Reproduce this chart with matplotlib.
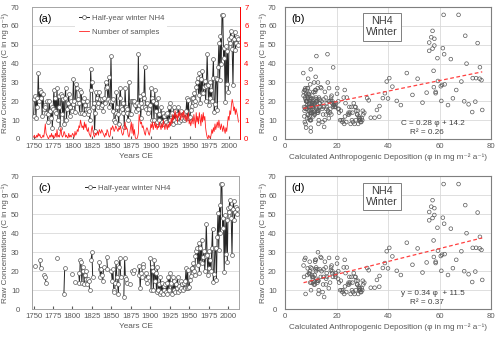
import numpy as np
import matplotlib
matplotlib.use("Agg")
import matplotlib.pyplot as plt

plt.rcParams['font.family'] = ['Liberation Sans', 'DejaVu Sans']

years = np.arange(1750, 2013)

# half-year winter NH4 (ng/g), one value per year 1750-2012
nh4 = [
    12, 21, 23, 11, 22, 17, 35, 20, 26, 21.5,
    25, 12, 24, 16, 18, 17, 14, 20, 9, 13,
    20, 15, 11, 17, 6, 16, 26, 15, 22, 14,
    27, 10, 23, 17, 6, 24, 23, 13, 21, 8,
    21.5, 27, 10, 16, 19, 24, 12, 17, 20, 15,
    18.5, 32, 20, 14.5, 29, 27, 19, 21, 19, 14,
    26, 25, 14, 20, 22, 13, 18, 16, 20, 13,
    16, 15, 10, 37, 26, 30, 17, 19, 4, 14,
    25, 22, 19, 17, 25, 21, 17, 21, 18, 15,
    22, 19, 30, 27, 27.5, 21, 33, 17, 20, 44,
    20, 15, 21, 10, 9, 14, 25, 17, 13, 8,
    22, 27, 17, 16, 14, 19, 6.4, 27, 17, 16,
    14, 10, 30, 13, 13, 20, 20, 20, 19, 20.4,
    18, 15, 19, 16, 45, 18, 23, 11, 19, 17,
    24, 22, 38, 17, 16, 19, 14, 17, 16, 18,
    27, 10, 22, 20, 10, 26, 15, 19, 9, 22,
    10, 13, 8, 17, 9, 14, 8, 12, 10, 13,
    9, 14, 8, 17, 10, 19, 13, 14, 8, 17,
    10, 15, 9, 13, 11, 17, 9, 12, 10, 15,
    11, 13, 10, 14, 11, 15, 21.7, 11.3, 20.5, 11.3,
    11.8, 15.4, 17.5, 21.7, 21.5, 24.3, 20.2, 18.0, 27.8, 30.5,
    32.3, 23.4, 35.0, 19.3, 32.0, 24.6, 36.2, 24.3, 27.5, 30.8,
    20.2, 28.0, 45.0, 28.7, 18.0, 30.5, 21.6, 26.0, 20.0, 32.3,
    42.4, 14.3, 18.4, 32.3, 32.0, 15.4, 38.1, 50.9, 31.2, 54.8,
    40.0, 65.9, 65.9, 42.9, 48.2, 19.8, 49.6, 29.0, 46.8, 25.0,
    53.2, 51.2, 57.4, 54.0, 48.0, 28.5, 53, 57, 47, 51,
    54, 50, 53,
]

# number of samples (right axis)
samples = [
    0.1, 0.2, 0.1, 0.05, 0.2, 0.1, 0.3, 0.15, 0.25, 0.1,
    0.05, 0.1, 0.2, 0.1, 0.4, 0.8, 0.3, 0.2, 0.1, 0.0,
    0.1, 0.2, 0.1, 0.3, 0.1, 0.2, 0.05, 0.1, 0.3, 0.1,
    0.5, 0.1, 0.2, 0.1, 0.3, 0.6, 0.2, 0.1, 0.2, 0.4,
    0.3, 0.1, 0.2, 0.1, 0.05, 0.3, 0.1, 0.2, 0.1, 0.2,
    0.3, 0.2, 0.1, 0.4, 0.2, 0.3, 0.5, 0.4, 0.7, 0.6,
    1.0, 0.8, 0.6, 0.7, 0.5, 0.9, 0.6, 0.8, 0.5, 0.4,
    0.6, 0.3, 0.2, 0.1, 0.5, 0.7, 0.4, 0.2, 0.1, 0.3,
    0.2, 0.3, 0.4, 0.2, 0.5, 0.4, 0.3, 0.5, 0.4, 0.3,
    0.2, 0.1, 0.3, 0.2, 0.5, 0.4, 0.2, 0.1, 0.2, 0.6,
    0.5, 0.7, 0.6, 0.4, 0.5, 0.7, 0.6, 0.5, 0.4, 0.6,
    0.5, 0.7, 0.5, 0.3, 0.2, 0.3, 0.6, 0.9, 0.5, 0.6,
    0.5, 0.2, 0.1, 0.3, 0.6, 0.9, 0.3, 0.8, 0.2, 0.5,
    0.1, 0.0, 0.0, 0.1, 0.3, 1.3, 1.0, 0.8, 0.9, 0.6,
    0.7, 0.5, 0.3, 0.2, 0.5, 0.6, 0.5, 0.3, 0.2, 0.4,
    0.8, 0.6, 0.9, 0.5, 0.7, 0.9, 0.6, 0.8, 0.5, 0.7,
    0.6, 0.9, 0.7, 0.5, 0.8, 0.6, 1.0, 0.7, 0.5, 0.8,
    0.7, 0.5, 0.8, 0.6, 0.9, 0.7, 1.1, 0.8, 1.3, 1.0,
    1.2, 1.5, 1.1, 1.3, 0.9, 1.4, 1.2, 1.5, 1.0, 1.3,
    1.4, 1.1, 1.5, 1.2, 1.0, 1.3, 0.9, 1.2, 1.4, 0.8,
    1.0, 0.7, 0.9, 1.1, 0.8, 1.3, 1.0, 0.6, 1.4, 0.9,
    1.2, 0.8, 1.4, 1.1, 0.7, 1.3, 0.9, 1.4, 1.0, 1.2,
    0.6, 0.3, 0.1, 0.0, 0.2, 0.1, 0.05, 0.2, 0.5, 0.3,
    0.6, 0.4, 0.8, 0.5, 0.7, 0.9, 0.6, 1.0, 0.7, 0.5,
    0.8, 0.6, 0.4, 0.7, 0.5, 0.3, 0.6, 0.4, 0.8, 1.2,
    1.0, 1.5, 1.3, 1.8, 2.1, 1.9, 1.5, 1.7, 1.3, 1.6,
    1.4, 1.2, 0.9,
]

# calculated anthropogenic deposition (mg m-2 a-1); no estimate after 2004
nan = float('nan')
phi = [
    7.5, 8.0, 7.2, 8.6, 7.8, 9.1, 7.1, 8.3, 7.6, 8.8,
    7.3, 9.5, 8.1, 7.9, 8.7, 7.4, 9.8, 8.2, 7.7, 9.0,
    8.4, 7.6, 9.3, 8.0, 10.0, 8.6, 7.8, 9.4, 8.9, 10.3,
    7.9, 9.7, 8.5, 10.1, 8.2, 9.2, 10.6, 8.8, 9.6, 8.0,
    10.4, 8.7, 9.9, 8.3, 10.8, 9.0, 11.0, 9.4, 8.6, 10.2,
    9.5, 9.0, 10.7, 11.3, 9.8, 8.9, 11.5, 10.0, 9.3, 10.9,
    11.8, 9.6, 10.3, 12.0, 9.9, 11.2, 10.5, 12.3, 9.7, 11.6,
    10.8, 12.5, 10.1, 10.0, 11.9, 12.8, 10.6, 11.4, 10.0, 12.9,
    11.1, 13.2, 10.4, 12.2, 11.7, 13.5, 10.9, 12.6, 11.5, 13.0,
    12.1, 13.4, 11.3, 12.7, 13.8, 11.9, 11.9, 13.3, 12.4, 12.2,
    14.2, 12.8, 15.0, 13.1, 14.6, 12.6, 15.5, 13.9, 14.8, 13.0,
    15.8, 14.1, 16.3, 14.5, 16.8, 13.6, 15.2, 17.1, 14.9, 16.0,
    17.5, 15.4, 16.6, 18.0, 15.9, 17.3, 16.9, 18.4, 16.2, 17.8,
    18.8, 16.7, 19.1, 17.6, 16.5, 19.5, 18.1, 17.0, 19.8, 18.6,
    20.2, 17.9, 18.7, 19.3, 20.6, 18.3, 21.0, 19.6, 20.9, 19.0,
    20.3, 21.4, 22.8, 20.7, 22.0, 23.2, 21.7, 23.5, 22.3, 24.0,
    22.6, 24.4, 23.0, 25.0, 23.8, 24.7, 25.5, 23.3, 26.0, 24.9,
    26.4, 25.3, 27.0, 25.8, 27.5, 26.7, 28.0, 26.2, 28.4, 27.2,
    28.8, 27.7, 29.3, 28.1, 29.0, 27.4, 29.6, 28.6, 30.0, 28.3,
    29.8, 30.4, 29.2, 30.8, 28.9, 30.2, 31.9, 33.3, 32.5, 34.8,
    36.6, 35.7, 36.7, 38.0, 40.0, 38.8, 43.4, 45.0, 41.7, 39.5,
    40.5, 49.5, 47.3, 53.4, 51.5, 55.0, 57.7, 58.5, 57.8, 59.4,
    60.7, 60.5, 61.8, 61.0, 63.3, 68.5, 65.2, 66.5, 69.6, 72.9,
    64.4, 72.7, 71.3, 74.2, 75.6, 76.6, 75.7, 74.8, 76.3, 70.0,
    70.5, 67.4, 61.6, 59.2, 61.3, 73.9, 58.0, 62.0, 56.0, 58.5,
    58.0, 56.0, 57.3, 56.8, 57.3, nan, nan, nan, nan, nan,
    nan, nan, nan,
]

# years kept in the filtered record (panels c and d)
c_spans = [(1752, 1752), (1758, 1759), (1764, 1766), (1780, 1780), (1789, 1790),
           (1800, 1800), (1803, 1803), (1808, 1822), (1824, 1826), (1834, 1840),
           (1844, 1845), (1850, 1862), (1866, 1870), (1874, 1874), (1877, 1879),
           (1885, 1891), (1894, 1897), (1900, 2012)]

fit_b = [0.28, 14.2]
fit_d = [0.34, 11.5]
eq_b = ["C = 0.28 φ + 14.2", "R² = 0.26"]
eq_d = ["y = 0.34 φ  + 11.5", "R² = 0.37"]

nh4 = np.array(nh4, float)
samples = np.array(samples, float)
phi = np.array(phi, float)
keep = np.zeros(len(years), bool)
for a, b in c_spans:
    keep |= (years >= a) & (years <= b)
nh4_c = np.where(keep, nh4, np.nan)

GRAY = '#595959'
GRID = '#d9d9d9'
FS = 5.6
ylab = 'Raw Concentrations (C in ng g⁻¹)'
xlab_s = 'Calculated Anthropogenic Deposition (φ in mg m⁻² a⁻¹)'


def series_axes(ax, vals, tag):
    ax.plot(years, vals, '-o', color='#262626', lw=0.7, ms=2.8, mfc='white',
            mec='#595959', mew=0.5, label='Half-year winter NH4', zorder=3)
    ax.set_xlim(1748, 2014)
    ax.set_ylim(0, 70)
    ax.set_xticks(range(1750, 2001, 25))
    ax.set_yticks(range(0, 71, 10))
    ax.yaxis.grid(True, color=GRID, lw=0.6)
    ax.set_axisbelow(True)
    for s in ax.spines.values():
        s.set_color('#a6a6a6')
        s.set_linewidth(0.7)
    ax.tick_params(axis='x', labelsize=FS, colors=GRAY, length=2, pad=3, direction='in')
    ax.tick_params(axis='y', labelsize=FS, colors=GRAY, length=0, pad=9)
    ax.set_xlabel('Years CE', fontsize=FS + 0.3, color=GRAY, labelpad=2)
    ax.set_ylabel(ylab, fontsize=FS + 0.3, color=GRAY, labelpad=1)
    ax.text(0.03, 0.91, tag, transform=ax.transAxes, fontsize=7.8, va='center')


def scatter_axes(ax, x, y, fit, eq, tag):
    ax.scatter(x, y, s=7, facecolors='none', edgecolors='#595959', linewidths=0.5, zorder=3)
    xs = np.array([np.nanmin(x), np.nanmax(x)])
    ax.plot(xs, fit[0] * xs + fit[1], '--', color='#ff4040', lw=0.9, dashes=(3, 2), zorder=4)
    ax.set_xlim(0, 80)
    ax.set_ylim(0, 70)
    ax.set_xticks(range(0, 81, 20))
    ax.set_yticks(range(0, 71, 10))
    ax.grid(True, color=GRID, lw=0.6)
    ax.set_axisbelow(True)
    for s in ax.spines.values():
        s.set_color('#7f7f7f')
        s.set_linewidth(0.8)
    ax.tick_params(labelsize=FS, colors=GRAY, length=0, pad=3)
    ax.tick_params(axis='y', pad=6)
    ax.set_xlabel(xlab_s, fontsize=FS + 0.3, color=GRAY, labelpad=2)
    ax.set_ylabel(ylab, fontsize=FS + 0.3, color=GRAY, labelpad=1)
    ax.text(0.03, 0.91, tag, transform=ax.transAxes, fontsize=7.8, va='center')
    ax.text(0.47, 0.85, 'NH4\nWinter', transform=ax.transAxes, fontsize=7.8,
            ha='center', va='center', color='#404040', linespacing=1.1,
            bbox=dict(boxstyle='square,pad=0.3', fc='white', ec='#7f7f7f', lw=0.7))
    ax.text(0.72, 0.12, eq[0], transform=ax.transAxes, fontsize=FS + 0.3,
            ha='center', va='center', color='#404040')
    ax.text(0.69, 0.05, eq[1], transform=ax.transAxes, fontsize=FS + 0.3,
            ha='center', va='center', color='#404040')


fig = plt.figure(figsize=(5, 3.39), dpi=100)
ax_a = fig.add_axes([0.064, 0.590, 0.416, 0.389])
ax_b = fig.add_axes([0.570, 0.590, 0.412, 0.389])
ax_c = fig.add_axes([0.064, 0.088, 0.414, 0.392])
ax_d = fig.add_axes([0.570, 0.088, 0.412, 0.392])

# (a) full record with number of samples
series_axes(ax_a, nh4, '(a)')
ax_r = ax_a.twinx()
ax_r.plot(years, samples, color='#ff2020', lw=0.6, label='Number of samples')
ax_r.set_ylim(0, 7)
ax_r.set_yticks(range(0, 8))
ax_r.tick_params(axis='y', labelsize=FS, colors='#ff0000', length=0, pad=3)
for s in ax_r.spines.values():
    s.set_visible(False)
ax_r.spines['right'].set_visible(True)
ax_r.spines['right'].set_color('#ff0000')
ax_r.spines['right'].set_linewidth(0.7)
h1, l1 = ax_a.get_legend_handles_labels()
h2, l2 = ax_r.get_legend_handles_labels()
leg = ax_a.legend(h1 + h2, l1 + l2, loc='upper left', bbox_to_anchor=(0.19, 1.0),
                  fontsize=FS, frameon=True, fancybox=False, edgecolor='none',
                  handlelength=1.4, handletextpad=0.3, labelspacing=0.9, borderpad=0.4)
leg.get_frame().set_alpha(1)
for t in leg.get_texts():
    t.set_color(GRAY)

# (b) all years
scatter_axes(ax_b, phi, nh4, fit_b, eq_b, '(b)')

# (c) filtered record
series_axes(ax_c, nh4_c, '(c)')
leg = ax_c.legend(loc='upper left', bbox_to_anchor=(0.22, 0.99), fontsize=FS,
                  frameon=True, fancybox=False, edgecolor='none',
                  handlelength=1.4, handletextpad=0.3, borderpad=0.4)
for t in leg.get_texts():
    t.set_color(GRAY)

# (d) filtered years only
scatter_axes(ax_d, np.where(keep, phi, np.nan), nh4_c, fit_d, eq_d, '(d)')

fig.savefig('out.png', dpi=100)
